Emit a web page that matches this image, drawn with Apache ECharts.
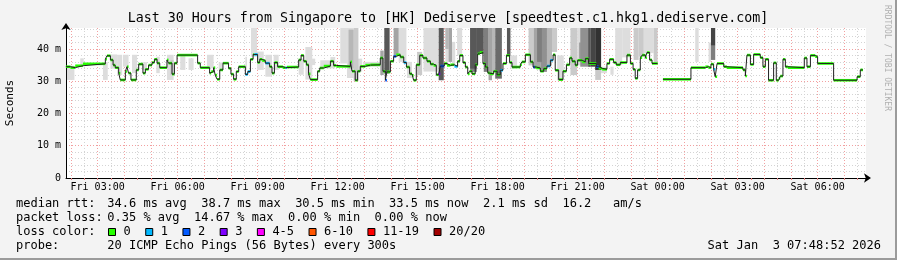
<!DOCTYPE html>
<html><head><meta charset="utf-8">
<script src="https://cdn.jsdelivr.net/npm/echarts@6/dist/echarts.min.js"></script>
<style>html,body{margin:0;padding:0;background:#f3f3f3}#c{width:897px;height:260px}</style>
</head><body><div id="c"></div>
<script>
// ---- time window (hours since Fri 00:00) ----
const tStart = 1.8144, tEnd = 31.8144;
const xLabelValues = [3, 6, 9, 12, 15, 18, 21, 24, 27, 30];
const xLabelTexts = ['Fri 03:00','Fri 06:00','Fri 09:00','Fri 12:00','Fri 15:00','Fri 18:00','Fri 21:00','Sat 00:00','Sat 03:00','Sat 06:00'];
const yLabelValues = [0, 10, 20, 30, 40];
const yLabelTexts = ['0', '10 m', '20 m', '30 m', '40 m'];

// ---- median rtt (ms), step starts; value holds until next time ----
const medianT = [1.81,1.98,2.16,2.45,3.29,3.35,3.48,3.58,3.66,3.79,3.85,4.04,4.10,4.16,4.25,4.45,4.54,4.70,4.79,4.91,5.04,5.13,5.23,5.33,5.60,5.66,5.79,5.88,5.98,6.75,6.85,7.20,7.26,7.35,7.41,7.48,7.58,7.70,7.91,8.00,8.10,8.20,8.29,8.54,8.63,8.73,8.83,8.88,9.00,9.08,9.17,9.29,9.45,9.54,9.63,9.75,9.95,10.05,10.10,10.54,10.63,10.73,10.83,10.91,10.98,11.25,11.33,11.48,11.73,11.85,11.95,12.48,12.54,12.66,12.75,12.85,13.04,13.23,13.60,13.70,13.79,13.85,13.98,14.10,14.20,14.35,14.48,14.58,14.70,14.79,14.85,14.95,15.08,15.20,15.35,15.48,15.60,15.70,15.79,15.85,16.00,16.10,16.23,16.38,16.50,16.58,16.70,16.79,16.88,16.95,17.04,17.16,17.25,17.33,17.45,17.54,17.63,17.70,17.85,17.98,18.10,18.20,18.33,18.45,18.54,18.85,18.91,19.04,19.23,19.33,19.40,19.45,19.60,19.73,19.85,19.98,20.08,20.16,20.29,20.45,20.58,20.70,20.79,20.91,21.00,21.17,21.29,21.41,21.70,21.79,21.92,22.10,22.20,22.35,22.45,22.60,22.85,22.98,23.08,23.16,23.25,23.35,23.42,23.54,23.60,23.70,23.79,24.00,24.20,25.25,25.79,25.91,26.00,26.10,26.16,26.23,26.48,26.60,27.20,27.29,27.35,27.48,27.60,27.85,27.95,28.04,28.16,28.35,28.45,28.54,28.60,28.70,28.79,28.88,29.50,29.60,29.73,29.91,30.00,30.60,31.48,31.60,31.70];
const medianV = [34.5,34.2,34.8,35.4,36.8,37.9,36.6,35.0,34.2,32.5,30.4,33.0,34.5,32.5,30.4,33.5,35.3,32.5,33.7,35.0,35.8,36.8,35.6,34.2,36.6,35.6,32.2,35.6,38.1,35.6,34.2,32.5,33.0,34.2,31.9,30.6,33.5,35.6,34.0,32.2,30.6,33.0,34.5,32.1,33.0,36.8,38.3,38.3,35.8,36.8,36.4,35.6,34.5,32.5,35.8,34.5,34.2,34.2,34.4,36.6,38.0,36.2,35.1,32.3,30.5,33.1,34.1,34.7,36.2,34.9,34.6,36.0,33.1,30.3,33.1,34.6,35.0,35.1,37.2,33.1,30.3,32.9,36.2,37.7,38.2,37.5,35.8,34.4,32.3,31.8,30.3,35.1,38.0,37.2,36.2,35.3,34.9,32.0,32.3,34.7,35.5,34.9,35.1,34.6,36.2,38.0,35.8,34.4,32.3,33.1,32.3,35.1,38.5,38.9,35.5,34.4,32.6,32.3,33.1,32.0,33.4,35.5,38.0,35.8,34.4,35.1,36.0,38.2,36.0,34.4,34.4,34.1,33.1,33.9,34.7,36.5,38.2,33.4,30.5,33.1,35.1,37.2,36.2,35.0,36.5,36.0,37.0,35.5,34.5,34.0,33.7,35.5,36.8,35.8,35.1,35.8,38.1,35.5,33.7,30.9,33.5,37.3,38.1,37.3,38.9,36.6,35.5,null,30.6,34.2,34.5,34.2,35.3,33.7,31.4,35.5,34.5,34.2,33.5,31.6,38.1,35.2,38.3,37.3,34.5,36.8,30.3,35.7,30.3,30.9,31.6,36.8,34.5,34.2,37.2,34.5,38.0,37.6,35.5,30.3,31.4,33.5,null];
// lost pings (of 20) for each step
const medianLoss = [0,0,0,0,0,0,0,0,0,0,0,0,0,0,0,0,0,0,0,0,0,0,0,0,0,0,0,0,0,0,0,0,0,0,0,0,0,0,0,0,0,0,0,1,1,0,0,1,0,0,0,1,0,0,0,0,0,1,0,0,0,0,0,0,0,0,0,0,0,0,0,0,0,0,0,0,0,0,0,0,2,0,0,2,0,0,1,0,0,0,0,0,0,0,0,0,0,0,3,2,0,0,0,1,0,0,0,0,0,0,0,0,0,0,0,0,0,0,0,0,1,0,0,0,0,0,0,0,0,2,0,0,0,0,1,1,0,0,0,0,0,0,0,0,0,0,0,0,2,0,0,0,0,0,0,0,0,0,0,0,0,0,0,0,0,0,0,0,0,0,0,0,0,1,0,0,0,0,0,0,0,0,0,0,0,0,0,0,0,0,0,0,0,0,0,0,0,0,0,0,0,0,0,0,0,0];

// ---- smoke (ping spread): start, end, low ms, high ms, ping-rank band (1 outer .. 10 inner) ----
const smokeStart = [1.85,2.35,3.20,3.48,3.73,3.95,4.29,4.67,5.20,5.60,5.73,6.10,6.41,7.10,7.54,8.54,8.75,8.98,9.29,9.60,10.54,10.79,11.04,11.35,11.73,12.10,12.35,12.41,12.60,12.73,12.96,13.60,13.75,14.10,14.29,14.60,14.98,15.22,15.79,16.04,16.04,16.16,16.29,16.48,16.97,16.97,17.22,17.48,17.66,17.79,17.91,18.35,18.48,19.16,19.35,19.48,19.60,19.85,20.04,20.23,20.73,20.98,21.05,21.10,21.40,21.48,21.66,21.66,21.88,22.23,22.41,22.67,23.10,23.29,23.48,23.85,25.41,25.91,26.00,26.00];
const smokeEnd   = [2.13,2.48,3.38,3.73,3.92,4.16,4.48,4.85,5.33,5.85,5.85,6.29,6.60,7.35,7.67,8.60,8.98,9.23,9.54,9.79,10.73,11.05,11.16,11.73,11.91,12.35,12.60,12.60,12.78,12.92,13.60,13.73,13.95,14.29,14.58,14.79,15.17,15.78,15.98,16.16,16.16,16.29,16.41,16.67,17.22,17.22,17.48,17.66,17.79,17.91,18.16,18.48,18.73,19.35,19.60,19.66,19.85,20.04,20.23,20.48,20.98,21.23,21.23,21.48,21.48,21.66,21.88,21.88,22.10,22.35,22.67,22.98,23.29,23.48,23.85,24.00,25.54,26.00,26.16,26.16];
const smokeLow   = [30.4,35.0,30.4,33.9,31.9,34.5,32.5,33.5,32.5,30.4,31.9,33.5,33.5,34.0,33.5,33.5,37.6,33.5,31.4,33.5,32.0,30.5,35.0,34.0,34.0,35.5,31.0,33.9,30.0,33.0,34.5,31.9,32.4,38.0,36.0,31.0,31.9,33.0,30.3,36.0,40.0,36.0,35.0,38.0,32.9,33.9,38.6,32.9,30.3,32.9,30.8,38.0,33.9,34.9,33.9,36.0,32.9,34.9,39.1,30.3,31.9,34.9,37.0,34.5,34.5,34.5,30.4,33.5,32.5,32.0,35.0,37.4,36.6,37.6,38.7,35.5,36.0,36.0,36.6,41.0];
const smokeHigh  = [34.8,37.1,35.9,38.3,38.2,38.2,38.2,35.9,37.6,38.2,36.6,38.2,37.1,38.2,35.8,37.6,46.5,39.2,38.2,38.2,37.0,40.6,37.0,36.5,37.5,46.5,46.5,46.0,46.5,37.0,36.0,39.5,46.5,46.5,46.5,36.0,39.1,46.5,46.5,46.5,46.5,46.5,42.2,46.5,46.5,46.5,46.5,46.5,46.5,46.5,46.5,46.5,38.0,46.5,46.5,46.5,46.5,46.5,46.5,38.0,46.5,46.5,42.0,46.5,46.5,46.5,46.5,46.5,34.5,34.5,46.5,46.5,46.5,46.5,46.5,46.5,46.5,42.0,41.0,46.5];
const smokeBand  = [1,1,1,1,1,1,1,1,1,1,2,1,1,1,1,1,1,1,1,1,1,1,1,1,1,1,1,3,2,1,1,4,8,4,1,1,2,1,8,1,3,4,1,1,6,8,8,6,4,3,7,8,1,2,4,6,5,3,2,1,2,1,4,5,8,9,2,10,1,1,1,1,2,2,1,2,1,1,6,9];

// ---- legend ----
const lossLabels = ['0','1','2','3','4-5','6-10','11-19','20/20'];
const lossColors = ['#26ff00','#00b8ff','#0059ff','#7e00ff','#ff00ff','#ff5500','#ff0000','#a10000'];
const lossUpper  = [0,1,2,3,5,10,19,20];
const statsRtt  = '34.6 ms avg  38.7 ms max  30.5 ms min  33.5 ms now  2.1 ms sd  16.2   am/s';
const statsLoss = '0.35 % avg  14.67 % max  0.00 % min  0.00 % now';
const probeText = '20 ICMP Echo Pings (56 Bytes) every 300s';
const stampText = 'Sat Jan  3 07:48:52 2026';
const titleText = 'Last 30 Hours from Singapore to [HK] Dediserve [speedtest.c1.hkg1.dediserve.com]';

function lossColor(n){ for (let i=0;i<lossUpper.length;i++){ if(n<=lossUpper[i]) return lossColors[i]; } return lossColors[lossColors.length-1]; }

// derived data
const smokeData = smokeStart.map((s,i)=>[s, smokeEnd[i], smokeLow[i], smokeHigh[i], smokeBand[i]]).sort((a,b)=>a[4]-b[4]);
const segData = [];
const lineData = [];
for (let i=0;i<medianT.length-1;i++){
  const v = medianV[i];
  if (v === null) { lineData.push([medianT[i], null]); continue; }
  segData.push([medianT[i], medianT[i+1], v, medianLoss[i]]);
  lineData.push([medianT[i], v]);
  if (medianV[i+1] === null) lineData.push([medianT[i+1], v]);
}

const halfHours = []; for (let h=2; h<tEnd; h+=0.5) halfHours.push(h);
const evenMs = []; for (let v=0; v<=46; v+=2) evenMs.push(v);

const mono = 'DejaVu Sans Mono';
const chart = echarts.init(document.getElementById('c'), null, {renderer:'canvas'});

const graphics = [
  {type:'rect', shape:{x:0,y:0,width:897,height:260}, style:{fill:'#f3f3f3'}, z:-10, silent:true},
  {type:'rect', shape:{x:0,y:258,width:897,height:2}, style:{fill:'#9b9b9b'}},
  {type:'rect', shape:{x:895,y:0,width:2,height:260}, style:{fill:'#9b9b9b'}},
  {type:'text', style:{text:titleText, x:448, y:19, align:'center', verticalAlign:'middle', font:'13.3px "DejaVu Sans Mono"', fill:'#000'}},
  {type:'text', rotation:Math.PI/2, x:10, y:103, style:{text:'Seconds', align:'center', verticalAlign:'middle', font:'11px "DejaVu Sans Mono"', fill:'#000'}},
  {type:'text', rotation:-Math.PI/2, x:887, y:58, style:{text:'RRDTOOL / TOBI OETIKER', align:'center', verticalAlign:'middle', font:'8px "DejaVu Sans Mono"', fill:'#b0b0b0'}},
  {type:'text', style:{text:'median rtt:', x:16, y:204, verticalAlign:'middle', font:'12px "DejaVu Sans Mono"', fill:'#000'}},
  {type:'text', style:{text:statsRtt, x:107.3, y:204, verticalAlign:'middle', font:'12px "DejaVu Sans Mono"', fill:'#000'}},
  {type:'text', style:{text:'packet loss:', x:16, y:218, verticalAlign:'middle', font:'12px "DejaVu Sans Mono"', fill:'#000'}},
  {type:'text', style:{text:statsLoss, x:107.3, y:218, verticalAlign:'middle', font:'12px "DejaVu Sans Mono"', fill:'#000'}},
  {type:'text', style:{text:'loss color:', x:16, y:232, verticalAlign:'middle', font:'12px "DejaVu Sans Mono"', fill:'#000'}},
  {type:'text', style:{text:'probe:', x:16, y:246, verticalAlign:'middle', font:'12px "DejaVu Sans Mono"', fill:'#000'}},
  {type:'text', style:{text:probeText, x:107.3, y:246, verticalAlign:'middle', font:'12px "DejaVu Sans Mono"', fill:'#000'}},
  {type:'text', style:{text:stampText, x:881, y:246, align:'right', verticalAlign:'middle', font:'12px "DejaVu Sans Mono"', fill:'#000'}}
];
let bx = 108.5;
lossLabels.forEach((lab,i)=>{
  graphics.push({type:'rect', shape:{x:bx, y:228.5, width:7, height:7}, style:{fill:lossColors[i], stroke:'#000', lineWidth:1}});
  graphics.push({type:'text', style:{text:lab, x:bx+15, y:232, verticalAlign:'middle', font:'12px "DejaVu Sans Mono"', fill:'#000'}});
  bx = bx + 15 + lab.length*7.22 + 15;
});

chart.setOption({
  animation:false,
  backgroundColor:'#f3f3f3',
  grid:{left:66, top:28, width:800, height:150, backgroundColor:'#ffffff', show:true, borderWidth:0},
  xAxis:{type:'value', min:tStart, max:tEnd,
    axisLine:{show:true, onZero:false, lineStyle:{color:'#000', width:1}, symbol:['none','arrow'], symbolSize:[7,7], symbolOffset:[0,5]},
    axisTick:{show:true, customValues:halfHours, length:2, lineStyle:{color:'#e08080'}},
    axisLabel:{customValues:xLabelValues, formatter:v=>{const k=xLabelValues.indexOf(v); return k>=0?xLabelTexts[k]:'';}, fontFamily:mono, fontSize:10, color:'#000', margin:4},
    splitLine:{show:true, lineStyle:{color:['#f2a0a0','#d4d4d4'], type:[1,2], width:1}}
  },
  yAxis:{type:'value', min:0, max:46.5,
    axisLine:{show:true, lineStyle:{color:'#000', width:1}, symbol:['none','arrow'], symbolSize:[7,7], symbolOffset:[0,5]},
    axisTick:{show:false, customValues:evenMs},
    axisLabel:{customValues:yLabelValues, formatter:v=>{const k=yLabelValues.indexOf(v); return k>=0?yLabelTexts[k]:'';}, fontFamily:mono, fontSize:10, color:'#000', margin:5},
    splitLine:{show:true, lineStyle:{color:['#f2a0a0','#d4d4d4','#d4d4d4','#d4d4d4','#d4d4d4'], type:[1,2], width:1}}
  },
  graphic:graphics,
  series:[
    {type:'custom', name:'smoke', data:smokeData, encode:{x:[0,1], y:[2,3]}, silent:true,
      renderItem:(params, api)=>{
        const p0 = api.coord([api.value(0), api.value(3)]);
        const p1 = api.coord([api.value(1), api.value(2)]);
        const g = Math.round(190/10*(10-api.value(4)))+50;
        const cs = params.coordSys;
        const shape = echarts.graphic.clipRectByRect({x:p0[0], y:p0[1], width:p1[0]-p0[0], height:p1[1]-p0[1]}, {x:cs.x, y:cs.y, width:cs.width, height:cs.height});
        return shape ? {type:'rect', shape:shape, style:{fill:'rgb('+g+','+g+','+g+')'}} : null;
      }},
    {type:'line', name:'median', data:lineData, step:'end', showSymbol:false, connectNulls:false, lineStyle:{color:'#202020', width:1}, silent:true},
    {type:'custom', name:'loss', data:segData, encode:{x:[0,1], y:2}, silent:true,
      renderItem:(params, api)=>{
        const a = api.coord([api.value(0), api.value(2)]);
        const b = api.coord([api.value(1), api.value(2)]);
        return {type:'rect', shape:{x:a[0], y:a[1]-1.3, width:b[0]-a[0], height:2.6}, style:{fill:lossColor(api.value(3))}};
      }}
  ]
});
</script></body></html>
